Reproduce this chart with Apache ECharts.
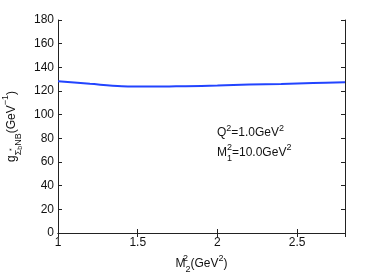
<!DOCTYPE html>
<html><head><meta charset="utf-8">
<script src="https://cdn.jsdelivr.net/npm/echarts@6/dist/echarts.min.js"></script>
<style>html,body{margin:0;padding:0;background:#fff}#c{width:382px;height:273px}</style>
</head><body><div id="c"></div>
<script>
var xValues = [1.0, 1.2, 1.4, 1.6, 1.8, 2.0, 2.2, 2.4, 2.6, 2.8];
var gValues = [128.2, 126.1, 124.1, 123.7, 124.1, 124.6, 125.4, 126.0, 126.7, 127.4];
var yTicks = [0, 20, 40, 60, 80, 100, 120, 140, 160, 180];
var xTicks = [1, 1.5, 2, 2.5];

var FONT = 'Liberation Sans, Arial, sans-serif';
var chart = echarts.init(document.getElementById('c'));
var axisCommon = {
  axisLine: {show: true, lineStyle: {color: '#222', width: 1}},
  axisTick: {show: true, inside: true, length: 4, lineStyle: {color: '#222'}},
  splitLine: {show: false}
};
chart.setOption({
  animation: false,
  backgroundColor: '#fff',
  grid: {left: 58, right: 37, top: 20, bottom: 40, containLabel: false, outerBoundsMode: 'none'},
  xAxis: [
    Object.assign({type: 'value', min: 1, max: 2.8, interval: 0.5, position: 'bottom',
      axisLabel: {color: '#111', fontSize: 12, fontFamily: FONT, margin: 4, showMaxLabel: false,
        formatter: function (v) { return xTicks.indexOf(v) >= 0 ? String(v) : ''; }},
      name: '{t|M}{sp|2}{sb|2}{t|(GeV}{s2|2}{t|)}', nameLocation: 'middle', nameGap: 20,
      nameTextStyle: {color: '#111', fontFamily: FONT, rich: {
        t: {fontSize: 12, fontFamily: FONT, color: '#111', verticalAlign: 'middle', lineHeight: 20},
        sp: {fontSize: 9, fontFamily: FONT, color: '#111', verticalAlign: 'top', lineHeight: 9, width: 0.01},
        sb: {fontSize: 9, fontFamily: FONT, color: '#111', verticalAlign: 'bottom', lineHeight: 9},
        s2: {fontSize: 9, fontFamily: FONT, color: '#111', verticalAlign: 'top', lineHeight: 9}
      }}
    }, axisCommon),
    Object.assign({type: 'value', min: 1, max: 2.8, interval: 0.5, position: 'top',
      axisLabel: {show: false}}, axisCommon)
  ],
  yAxis: [
    Object.assign({type: 'value', min: 0, max: 180, interval: 20, position: 'left',
      axisLabel: {color: '#111', fontSize: 12, fontFamily: FONT, margin: 4,
        formatter: function (v) { return yTicks.indexOf(v) >= 0 ? String(v) : ''; }},
      name: '{t|g}{sb|Σ}{ss|*}{sbb|b}{sb|NB}{t|(GeV}{s2|−1}{t|)}', nameLocation: 'middle', nameGap: 30, nameRotate: 90,
      nameTextStyle: {color: '#111', fontFamily: FONT, rich: {
        t: {fontSize: 12, fontFamily: FONT, color: '#111', verticalAlign: 'middle', lineHeight: 22},
        sb: {fontSize: 9, fontFamily: FONT, color: '#111', verticalAlign: 'bottom', lineHeight: 9},
        ss: {fontSize: 7, fontFamily: FONT, color: '#111', verticalAlign: 'middle', lineHeight: 7, width: 0.01},
        sbb: {fontSize: 7, fontFamily: FONT, color: '#111', verticalAlign: 'bottom', lineHeight: 1},
        s2: {fontSize: 9, fontFamily: FONT, color: '#111', verticalAlign: 'top', lineHeight: 9}
      }}
    }, axisCommon),
    Object.assign({type: 'value', min: 0, max: 180, interval: 20, position: 'right',
      axisLabel: {show: false}}, axisCommon)
  ],
  series: [{
    type: 'line', smooth: 0.35, showSymbol: false,
    data: xValues.map(function (x, i) { return [x, gValues[i]]; }),
    lineStyle: {color: '#2244ff', width: 2}
  }],
  graphic: [
    {type: 'text', left: 217, top: 124, style: {
      text: '{t|Q}{s|2}{t|=1.0GeV}{s|2}', fill: '#111',
      rich: {t: {fontSize: 12, fontFamily: FONT, fill: '#111', verticalAlign: 'middle', lineHeight: 18},
             s: {fontSize: 9, fontFamily: FONT, fill: '#111', verticalAlign: 'top', lineHeight: 9}}}},
    {type: 'text', left: 217, top: 143, style: {
      text: '{t|M}{sp|2}{sb|1}{t|=10.0GeV}{s|2}', fill: '#111',
      rich: {t: {fontSize: 12, fontFamily: FONT, fill: '#111', verticalAlign: 'middle', lineHeight: 20},
             sp: {fontSize: 9, fontFamily: FONT, fill: '#111', verticalAlign: 'top', lineHeight: 9, width: 0.01},
             sb: {fontSize: 9, fontFamily: FONT, fill: '#111', verticalAlign: 'bottom', lineHeight: 9},
             s: {fontSize: 9, fontFamily: FONT, fill: '#111', verticalAlign: 'top', lineHeight: 9}}}}
  ]
});
</script></body></html>
